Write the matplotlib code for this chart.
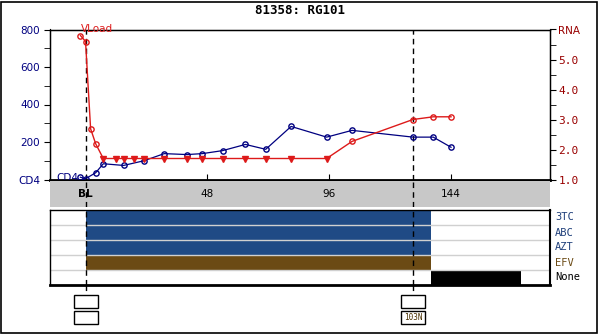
import matplotlib
matplotlib.use("Agg")
import matplotlib.pyplot as plt
from matplotlib.patches import Rectangle

# weeks from baseline
vl_weeks = [-2, 0, 2, 4, 7, 12, 15, 19, 23, 31, 40, 46, 54, 63, 71, 81, 95, 105, 129, 137, 144]
vl_log = [5.8, 5.6, 2.69, 2.19, 1.7, 1.7, 1.7, 1.7, 1.7, 1.7, 1.7, 1.7, 1.7, 1.7, 1.7, 1.7, 1.7,
          2.27, 3.0, 3.09, 3.09]
# True = below detection limit (drawn as triangle)
vl_bdl = [False, False, False, False, True, True, True, True, True, True, True, True, True,
          True, True, True, True, False, False, False, False]

cd4_weeks = [-2, 0, 4, 7, 15, 23, 31, 40, 46, 54, 63, 71, 81, 95, 105, 129, 137, 144]
cd4_vals = [12, 4, 36, 84, 75, 100, 138, 133, 138, 154, 187, 161, 283, 226, 262, 226, 226, 172]

drugs = ["3TC", "ABC", "AZT", "EFV", "None"]
drug_start = [0, 0, 0, 0, 136]
drug_stop = [136, 136, 136, 136, 171.5]
drug_colors = ["#1f4a85", "#1f4a85", "#1f4a85", "#6b4a14", "#000000"]
drug_label_colors = ["#1f3f7a", "#1f3f7a", "#1f3f7a", "#6b4a14", "#000000"]

genotype_weeks = [0, 129]
genotype_text = ["", "103N"]

W, H = 600, 334
XMIN, XMAX = -14, 183
NAVY = "#000080"
DRED = "#990000"
RED = "#dd1a1a"


def px_axes(fig, x0, y0, x1, y1, **kw):
    return fig.add_axes([x0 / W, 1 - y1 / H, (x1 - x0) / W, (y1 - y0) / H], **kw)


fig = plt.figure(figsize=(6, 3.34), dpi=100)
fig.patches.append(Rectangle((1 / W, 1 / H), (W - 4) / W, (H - 3) / H, transform=fig.transFigure,
                             fill=False, edgecolor="black", linewidth=1.2))

fig.text(0.5, 1 - 10 / H, "81358: RG101", ha="center", va="center",
         family="DejaVu Sans Mono", fontweight="bold", fontsize=9)

# main chart
ax = px_axes(fig, 50, 29.5, 550, 179.5)
ax.set_xlim(XMIN, XMAX)
ax.set_ylim(0, 800)
for s in ax.spines.values():
    s.set_linewidth(1.0)
ax.spines["bottom"].set_linewidth(2.0)
ax.set_yticks([0, 200, 400, 600, 800])
ax.set_yticklabels(["CD4", "200", "400", "600", "800"])
ax.set_yticks(range(100, 800, 200), minor=True)
ax.tick_params(axis="y", which="both", direction="out", length=4, labelsize=7.5,
               labelcolor=NAVY, pad=3)
ax.set_xticks(range(-12, 181, 12), minor=True)
ax.set_xticks([0, 48, 96, 144])
ax.set_xticklabels([])
ax.tick_params(axis="x", which="minor", direction="in", length=3)
ax.tick_params(axis="x", which="major", direction="inout", length=8)

ax2 = ax.twinx()
ax2.set_ylim(1, 6)
ax2.set_yticks([1, 2, 3, 4, 5, 6])
ax2.set_yticklabels(["1.0", "2.0", "3.0", "4.0", "5.0", "RNA"])
ax2.set_yticks([1.5, 2.5, 3.5, 4.5, 5.5], minor=True)
ax2.tick_params(axis="y", which="both", direction="out", length=4, pad=2)
for t in ax2.get_yticklabels():
    t.set_color(DRED)
    t.set_family("DejaVu Sans Mono")
    t.set_fontsize(8)
ax2.get_yticklabels()[-1].set_family("DejaVu Sans")
ax2.get_yticklabels()[-1].set_fontsize(7.5)

for wk in genotype_weeks:
    ax.axvline(wk, color="black", linestyle=(0, (4, 3)), linewidth=1.0, zorder=1)

ax.plot(cd4_weeks, cd4_vals, color=NAVY, linewidth=0.9, marker="o", markersize=3.8,
        markerfacecolor="none", markeredgecolor=NAVY, markeredgewidth=1.0, zorder=3)

ax2.plot(vl_weeks, vl_log, color=RED, linewidth=1.0, zorder=3)
det_w = [w for w, b in zip(vl_weeks, vl_bdl) if not b]
det_v = [v for v, b in zip(vl_log, vl_bdl) if not b]
bdl_w = [w for w, b in zip(vl_weeks, vl_bdl) if b]
bdl_v = [v for v, b in zip(vl_log, vl_bdl) if b]
ax2.plot(det_w, det_v, linestyle="none", marker="o", markersize=3.8, markerfacecolor="none",
         markeredgecolor=RED, markeredgewidth=1.0, zorder=4)
ax2.plot(bdl_w, bdl_v, linestyle="none", marker="v", markersize=4.2, color=RED, zorder=4)

ax2.text(-2, 6.0, "VLoad", color=RED, fontsize=7.5, ha="left", va="center")
ax.text(-11.5, 10, "CD4", color=NAVY, fontsize=7.5, ha="left", va="center")

# week axis band
band = px_axes(fig, 50, 180.5, 550, 207, sharex=ax)
band.set_facecolor("#c8c8c8")
for s in band.spines.values():
    s.set_visible(False)
band.set_yticks([])
band.tick_params(axis="x", which="both", length=0)
band.set_xticks([0, 48, 96, 144])
band.set_xticks([], minor=True)
for wk, lab in zip([0, 48, 96, 144], ["BL", "48", "96", "144"]):
    band.text(wk, 0.5, lab, ha="center", va="center", fontsize=7.5,
              fontweight="bold" if lab == "BL" else "normal")
band.set_xticklabels([])
band.set_ylim(0, 1)
band.axvline(0, color="black", linestyle=(0, (4, 3)), linewidth=1.0)
band.axvline(129, color="black", linestyle=(0, (4, 3)), linewidth=1.0)

# treatment panel
tx = px_axes(fig, 50, 210, 550, 285, sharex=ax)
tx.set_ylim(len(drugs), 0)
tx.set_yticks([])
tx.tick_params(axis="x", which="both", length=0)
for s in tx.spines.values():
    s.set_linewidth(1.0)
tx.spines["bottom"].set_linewidth(2.0)
tx.spines["right"].set_linewidth(1.5)
for i, (d, a, b, c, lc) in enumerate(zip(drugs, drug_start, drug_stop, drug_colors, drug_label_colors)):
    tx.barh(i + 0.5, b - a, left=a, height=1.0, color=c, linewidth=0, zorder=1)
    tx.text(XMAX + 2, i + 0.5, d, color=lc, fontsize=7.5, ha="left", va="center",
            family="DejaVu Sans Mono")
for i in range(1, len(drugs)):
    tx.axhline(i, color="#d0d0d0", linewidth=1.0, zorder=2)
for wk in genotype_weeks:
    tx.axvline(wk, color="black", linestyle=(0, (4, 3)), linewidth=1.0, zorder=3)

# genotype boxes below
trans = ax.transData
for wk, txt in zip(genotype_weeks, genotype_text):
    xp = trans.transform((wk, 0))[0]
    fig.add_artist(plt.Line2D([xp / W, xp / W], [1 - 285 / H, 1 - 294 / H],
                              transform=fig.transFigure, color="black", linestyle=(0, (4, 3)),
                              linewidth=1.0))
    bw = 24
    for y0 in (294.5, 310.5):
        fig.patches.append(Rectangle(((xp - bw / 2) / W, 1 - (y0 + 13) / H), bw / W, 13 / H,
                                     transform=fig.transFigure, fill=False,
                                     edgecolor="black", linewidth=1.0))
    if txt:
        fig.text(xp / W, 1 - 317 / H, txt, ha="center", va="center", fontsize=5.5,
                 family="DejaVu Sans Mono", color="#4a3000")

fig.savefig("out.png", dpi=100)
